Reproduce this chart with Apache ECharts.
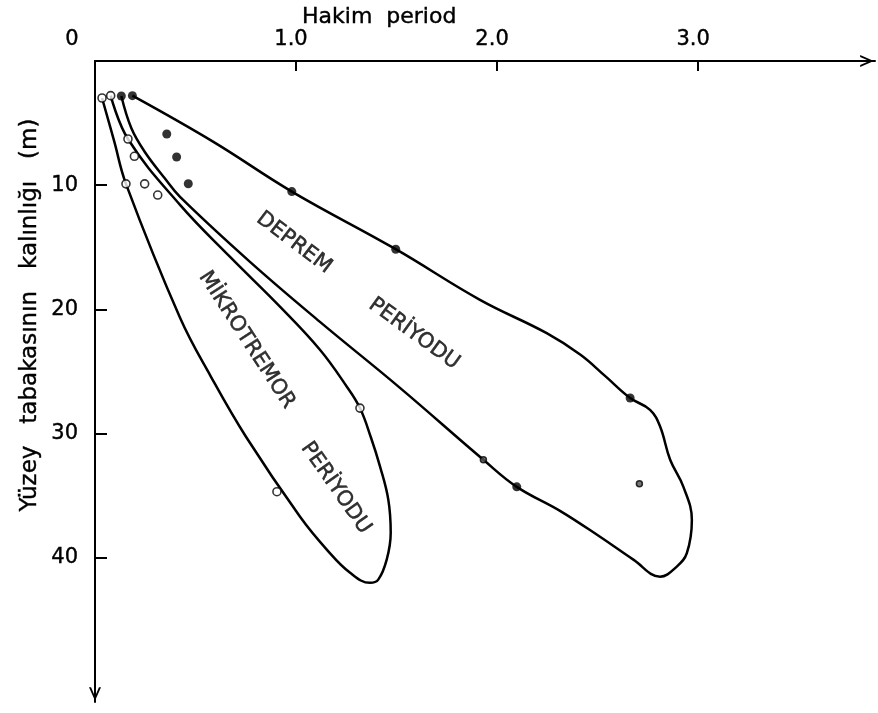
<!DOCTYPE html>
<html>
<head>
<meta charset="utf-8">
<script src="https://cdn.jsdelivr.net/npm/echarts@6/dist/echarts.min.js"></script>
<style>
  html, body { margin: 0; padding: 0; background: #fff; }
  #chart { width: 878px; height: 713px; }
</style>
</head>
<body>
<div id="chart"></div>
<script>
// Dominant period (s) against surface layer thickness (m):
// envelopes of earthquake and microtremor periods.

const periodTicks = [0, 1, 2, 3];
const periodTickLabels = ['0', '1.0', '2.0', '3.0'];
const depthTicks = [10, 20, 30, 40];
const depthTickLabels = ['10', '20', '30', '40'];

// [period, thickness] along the microtremor envelope (left branch down, right branch up)
const mikrotremorEnvelope = [
  [0.035, 2.98], [0.095, 6.43], [0.154, 9.89], [0.423, 20.67],
  [0.577, 25.42], [0.751, 30.25], [1.020, 36.69], [1.154, 39.35], [1.269, 41.20],
  [1.368, 42.01], [1.409, 41.75], [1.451, 40.14], [1.471, 37.97], [1.459, 35.31],
  [1.418, 32.65], [1.373, 30.33], [1.318, 27.94], [1.252, 26.20], [1.119, 23.24],
  [0.920, 19.77], [0.672, 15.77], [0.423, 11.58], [0.164, 6.28], [0.078, 2.79]
];

// [period, thickness] along the earthquake envelope (lower branch down, upper branch up)
const depremEnvelope = [
  [0.131, 2.82], [0.181, 5.42], [0.247, 7.30], [0.347, 9.44], [0.423, 10.94],
  [0.771, 16.17], [1.119, 21.00], [1.517, 26.31], [1.932, 32.10], [2.098, 34.28],
  [2.313, 36.21], [2.512, 38.30], [2.678, 40.14], [2.811, 41.51], [2.894, 40.70],
  [2.944, 39.62], [2.969, 36.94], [2.927, 34.28], [2.861, 32.10], [2.811, 29.42],
  [2.761, 28.08], [2.662, 27.13], [2.537, 25.35], [2.415, 23.65], [2.247, 21.91],
  [1.915, 19.23], [1.496, 15.15], [0.979, 10.51], [0.589, 6.51], [0.186, 2.79]
];

// earthquake observations
const depremPoints = [
  [0.131, 2.82], [0.186, 2.79], [0.357, 5.88], [0.406, 7.73], [0.464, 9.88],
  [0.979, 10.51], [1.496, 15.15], [2.662, 27.13], [2.098, 34.28]
];
const depremMinorPoints = [[1.932, 32.10], [2.708, 34.03]];

// microtremor observations
const mikrotremorPoints = [
  [0.035, 2.98], [0.078, 2.79], [0.164, 6.28], [0.196, 7.67], [0.154, 9.89],
  [0.247, 9.89], [0.312, 10.79], [1.318, 27.94], [0.905, 34.67]
];

const regionNames = ['DEPREM', 'PERİYODU', 'MİKROTREMOR', 'PERİYODU'];

const INK = '#000';
const FONT = '"DejaVu Sans", "Noto Sans", sans-serif';
const arrowPath = 'path://M0,16 L7,0 L14,16 L11.6,16 L7,5.2 L2.4,16 Z';

const chart = echarts.init(document.getElementById('chart'), null, { renderer: 'canvas' });

function regionLabel(name, at, angle) {
  return {
    type: 'scatter',
    data: [at],
    symbolSize: 1,
    itemStyle: { color: 'rgba(0,0,0,0)' },
    silent: true,
    z: 5,
    label: {
      show: true,
      position: 'inside',
      formatter: name,
      rotate: angle,
      color: INK,
      fontFamily: FONT,
      fontSize: 21,
      textBorderColor: INK,
      textBorderWidth: 0.5,
      align: 'center',
      verticalAlign: 'middle'
    }
  };
}

function envelope(name, data) {
  return {
    name: name,
    type: 'line',
    data: data,
    smooth: 0.4,
    showSymbol: false,
    symbol: 'none',
    lineStyle: { color: INK, width: 2.5 },
    z: 2
  };
}

const tickText = { color: INK, fontFamily: FONT, fontSize: 21, textBorderColor: INK, textBorderWidth: 0.4 };

const option = {
  animation: false,
  backgroundColor: '#fff',
  grid: { left: 95, top: 61, right: 3, bottom: 11, containLabel: false },
  xAxis: {
    type: 'value',
    position: 'top',
    min: 0,
    max: 3.88,
    interval: 1,
    splitLine: { show: false },
    axisLine: {
      show: true,
      lineStyle: { color: INK, width: 2 },
      symbol: ['none', arrowPath],
      symbolSize: [12, 17],
      symbolOffset: [0, -8]
    },
    axisTick: { show: true, inside: true, length: 10, customValues: [1, 2, 3], lineStyle: { color: INK, width: 2 } },
    axisLabel: Object.assign({
      show: true,
      customValues: periodTicks,
      margin: 11,
      formatter: function (v) {
        const i = periodTicks.indexOf(Math.round(v * 100) / 100);
        const t = i >= 0 ? periodTickLabels[i] : '';
        return v === 0 ? '{z|' + t + '}' : '{n|' + t + '}';
      },
      rich: {
        z: Object.assign({ padding: [0, 46, 0, 0] }, tickText),
        n: Object.assign({ padding: [0, 10, 0, 0] }, tickText)
      }
    }, tickText)
  },
  yAxis: {
    type: 'value',
    inverse: true,
    min: 0,
    max: 51.6,
    interval: 10,
    splitLine: { show: false },
    axisLine: {
      show: true,
      lineStyle: { color: INK, width: 2 },
      symbol: [arrowPath, 'none'],
      symbolSize: [12, 17],
      symbolOffset: [8, 0]
    },
    axisTick: { show: true, inside: true, length: 12, customValues: depthTicks, lineStyle: { color: INK, width: 2 } },
    axisLabel: Object.assign({
      show: true,
      customValues: depthTicks,
      margin: 17,
      padding: [0, 0, 8, 0],
      formatter: function (v) {
        const i = depthTicks.indexOf(Math.round(v));
        return i >= 0 ? depthTickLabels[i] : '';
      }
    }, tickText)
  },
  graphic: [
    {
      type: 'text',
      x: 302, y: 17,
      style: { text: 'Hakim  period', fill: INK, stroke: INK, lineWidth: 0.4, font: '22px "DejaVu Sans", sans-serif', align: 'left', verticalAlign: 'middle' }
    },
    {
      type: 'text',
      x: 30, y: 315,
      rotation: Math.PI / 2,
      style: { text: 'Yüzey   tabakasının   kalınlığı   (m)', fill: INK, stroke: INK, lineWidth: 0.4, font: '23px "DejaVu Sans", sans-serif', align: 'center', verticalAlign: 'middle' }
    }
  ],
  series: [
    envelope('Mikrotremor periyodu', mikrotremorEnvelope),
    envelope('Deprem periyodu', depremEnvelope),
    {
      name: 'Deprem',
      type: 'scatter',
      data: depremPoints,
      symbol: 'circle',
      symbolSize: 9,
      itemStyle: { color: INK },
      z: 4
    },
    {
      name: 'Deprem (ek)',
      type: 'scatter',
      data: depremMinorPoints,
      symbol: 'circle',
      symbolSize: 6,
      itemStyle: { color: '#555', borderColor: INK, borderWidth: 1.5 },
      z: 4
    },
    {
      name: 'Mikrotremor',
      type: 'scatter',
      data: mikrotremorPoints,
      symbol: 'circle',
      symbolSize: 8,
      itemStyle: { color: '#fff', borderColor: INK, borderWidth: 1.6 },
      z: 4
    },
    regionLabel(regionNames[0], [0.99, 14.64], -37),
    regionLabel(regionNames[1], [1.587, 21.96], -36),
    regionLabel(regionNames[2], [0.755, 22.45], -57),
    regionLabel(regionNames[3], [1.198, 34.38], -55)
  ]
};

chart.setOption(option);
</script>
</body>
</html>
